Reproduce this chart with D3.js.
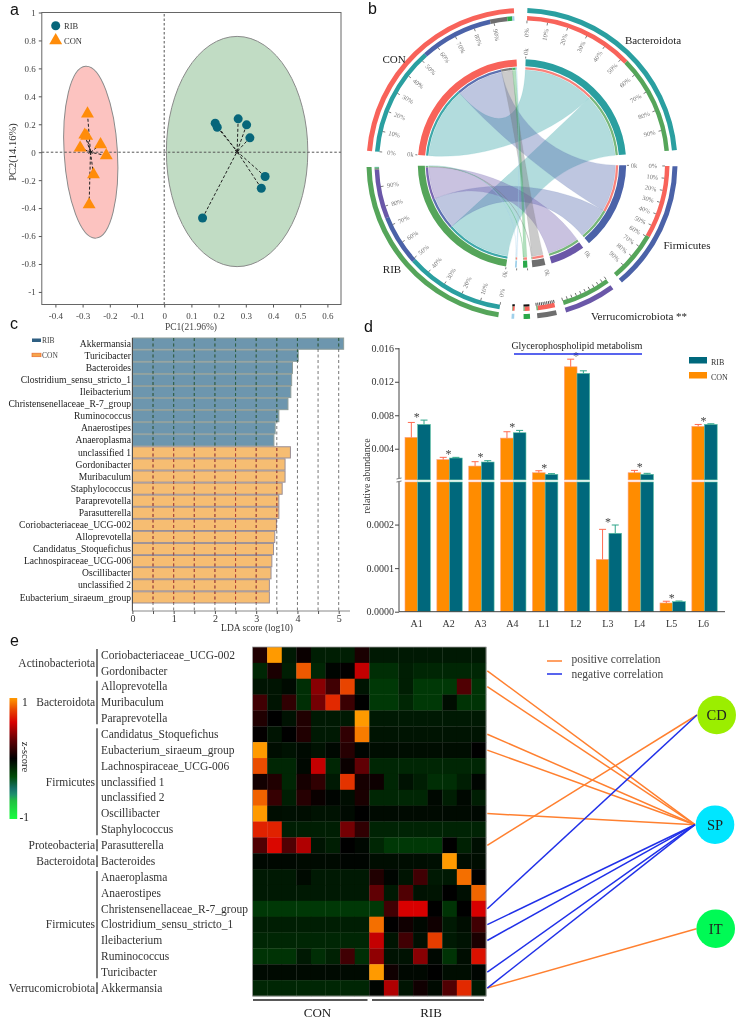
<!DOCTYPE html>
<html><head><meta charset="utf-8">
<script src="https://cdn.jsdelivr.net/npm/d3@7"></script>
<style>
html,body{margin:0;padding:0;background:#fff}
svg{display:block;filter:blur(.35px)}
text{font-family:"Liberation Serif",serif;fill:#333}
.letter{font-family:"Liberation Sans",sans-serif;font-size:16px;fill:#111}
.axis text{font-family:"Liberation Serif",serif}
</style></head><body>
<svg id="c" width="738" height="1019"></svg>
<script>
// ---------- DATA ----------
// panel a
const ribPoints=[[.1875,.208],[.195,.179],[.272,.239],[.303,.196],[.315,.103],[.371,-.174],[.357,-.258],[.141,-.471]];
const conPoints=[[-.282,.275],[-.292,.124],[-.285,.115],[-.309,.031],[-.234,.055],[-.213,-.024],[-.26,-.16],[-.276,-.375]];
const ribCentre=[.268,.005], conCentre=[-.271,0];
const ribEllipse={cx:.268,cy:.005,rx:.26,ry:.824,tilt:0};
const conEllipse={cx:-.27,cy:0,rx:.098,ry:.616,tilt:-3.4};
const pcaXTicks=[-.4,-.3,-.2,-.1,0,.1,.2,.3,.4,.5,.6];
const pcaYTicks=[-1,-.8,-.6,-.4,-.2,0,.2,.4,.6,.8,1];
// panel b
const chordTaxa=["Bacteroidota","Firmicutes","Verrucomicrobiota","Other1","Other2","Other3"];
const chordGroups=["RIB","CON"];
const chordCON=[43.7,29,0,6.8,2,.8];
const chordRIB=[39.3,20,19.5,.5,.4,.2];
const chordGaps=[6,4,3.5,2.7,3.5,4.9,6,5];
const taxaColors=["#2a9fa0","#4b62a8","#6a57a8","#6e6e6e","#2aa84a","#9fd0ea"];
const groupColors={RIB:"#55a55a",CON:"#f8635a"};
const pctTicks=[0,10,20,30,40,50,60,70,80,90];
// panel c
const ldaNames=["Akkermansia","Turicibacter","Bacteroides","Clostridium_sensu_stricto_1","Ileibacterium","Christensenellaceae_R-7_group","Ruminococcus","Anaerostipes","Anaeroplasma","unclassified 1","Gordonibacter","Muribaculum","Staphylococcus","Paraprevotella","Parasutterella","Coriobacteriaceae_UCG-002","Alloprevotella","Candidatus_Stoquefichus","Lachnospiraceae_UCG-006","Oscillibacter","unclassified 2","Eubacterium_siraeum_group"];
const ldaValues=[5.12,4.02,3.88,3.86,3.84,3.77,3.55,3.46,3.43,3.83,3.70,3.70,3.63,3.55,3.55,3.49,3.45,3.42,3.38,3.36,3.32,3.32];
const ldaRibCount=9;
// panel d
const lipidCats=["A1","A2","A3","A4","L1","L2","L3","L4","L5","L6"];
const lipidCON=[.00535,.00269,.00193,.00527,.00113,.01379,.00012,.00113,.00002,.00667];
const lipidCONerr=[.00714,.00297,.00245,.00603,.00137,.0147,.000189,.00141,.000024,.0069];
const lipidRIB=[.0069,.00289,.00241,.00591,.00094,.013,.00018,.00094,.000023,.0069];
const lipidRIBerr=[.00742,.00297,.00257,.00619,.00102,.01331,.000199,.00106,.0000245,.00698];
// panel e
const heatGenera=["Coriobacteriaceae_UCG-002","Gordonibacter","Alloprevotella","Muribaculum","Paraprevotella","Candidatus_Stoquefichus","Eubacterium_siraeum_group","Lachnospiraceae_UCG-006","unclassified 1","unclassified 2","Oscillibacter","Staphylococcus","Parasutterella","Bacteroides","Anaeroplasma","Anaerostipes","Christensenellaceae_R-7_group","Clostridium_sensu_stricto_1","Ileibacterium","Ruminococcus","Turicibacter","Akkermansia"];
const heatValues=[
[.1,1,-.1,.03,-.12,-.12,-.12,.08,-.1,-.1,-.1,-.1,-.1,-.1,-.1,-.1],
[-.15,.08,-.12,.85,-.15,-.02,.01,.55,-.18,-.18,-.12,-.15,-.15,-.15,-.15,-.15],
[-.08,-.08,-.04,-.18,.4,.2,.8,-.08,-.22,-.22,-.12,-.22,-.22,-.22,.25,-.2],
[.2,-.08,.15,-.18,.35,.72,.18,0,-.22,-.22,-.15,-.22,-.22,-.05,-.2,-.2],
[.1,0,-.07,.1,-.1,-.1,-.1,1,-.1,-.1,-.1,-.1,-.1,-.1,-.1,-.1],
[.01,-.08,0,.1,-.1,-.1,.15,.93,-.08,-.08,-.08,-.08,-.08,-.08,-.08,-.08],
[1,-.05,-.07,-.04,-.07,-.03,.12,-.02,-.05,-.05,-.05,-.05,-.05,-.05,-.05,0],
[.82,-.15,-.15,-.03,.55,-.15,.03,.3,-.15,-.15,-.15,-.15,-.15,-.15,-.15,-.15],
[.06,.1,-.15,.07,.15,-.1,.75,.07,.04,-.15,-.07,-.12,-.18,-.18,-.12,-.02],
[.87,.17,-.12,.12,.03,-.02,-.05,.08,-.15,-.15,-.15,-.15,-.03,-.12,-.03,-.12],
[1,-.05,-.06,-.05,-.07,-.07,-.04,0,-.04,-.04,-.04,-.04,-.04,-.04,-.04,-.03],
[.7,.7,-.12,-.12,-.12,-.12,.35,.15,-.14,-.14,-.14,-.14,-.14,-.14,-.14,-.14],
[.25,.62,.25,.5,-.08,-.12,0,-.03,-.15,-.22,-.22,-.22,-.22,0,-.13,-.06],
[-.03,-.03,-.03,-.04,-.04,-.04,-.02,-.02,-.05,-.05,-.05,-.05,-.06,1,-.05,-.05],
[-.1,-.1,-.1,-.04,-.1,-.1,-.1,-.1,.1,-.02,-.08,.2,-.1,-.1,.9,0],
[-.1,-.1,-.1,-.1,-.1,-.1,-.1,-.1,.3,-.1,.25,-.07,-.08,0,-.06,.88],
[-.22,-.22,-.22,-.22,-.22,-.22,-.22,-.22,-.22,.2,.6,.6,0,-.2,0,.6],
[-.12,-.12,-.12,-.12,-.12,-.12,-.12,-.12,.9,0,.05,-.03,.05,-.1,-.05,.2],
[-.15,-.15,-.15,-.15,-.15,-.15,-.15,-.15,.55,-.08,.2,-.06,.78,-.1,-.07,.08],
[-.2,-.2,-.2,-.1,-.18,-.13,.2,-.18,.42,-.07,-.07,.4,-.03,-.2,-.05,.65],
[-.04,-.04,-.04,-.04,-.04,-.04,-.04,-.04,1,.05,-.03,-.03,0,-.05,-.05,-.02],
[-.15,-.15,-.15,-.15,-.15,-.15,-.15,-.15,-.02,.5,-.08,.05,-.04,.25,.72,-.1]];
const phyla=[["Actinobacteriota",0,1],["Bacteroidota",2,4],["Firmicutes",5,11],["Proteobacteria",12,12],["Bacteroidota",13,13],["Firmicutes",14,20],["Verrucomicrobiota",21,21]];
const nodes=[{n:"CD",c:"#9bee00"},{n:"SP",c:"#00e6ff"},{n:"IT",c:"#00fa55"}];
const posLinks=[[1,"SP"],[2,"SP"],[5,"SP"],[6,"SP"],[10,"SP"],[12,"CD"],[21,"IT"]];
const negLinks=[[16,"CD"],[17,"SP"],[18,"SP"],[20,"SP"],[21,"SP"]];

// ---------- HELPERS ----------
const svg=d3.select("#c");
const font=(s,sz,col)=>{s.style("font-size",sz+"px");if(col)s.style("fill",col);return s;};
function letter(t,x,y){svg.append("text").attr("class","letter").attr("x",x).attr("y",y).text(t);}
letter("a",10,15);letter("b",368,14);letter("c",10,329);letter("d",364,332);letter("e",10,646);

// ---------- PANEL A ----------
(function(){
const x=d3.scaleLinear().domain([-.45,.65]).range([41.8,341]);
const y=d3.scaleLinear().domain([-1.09,1]).range([304.5,12.5]);
const g=svg.append("g");
const plain=d=>String(+d.toFixed(1));
[[conEllipse,"#fcc3c0"],[ribEllipse,"#c1dcc4"]].forEach(([e,f])=>{
 g.append("ellipse").attr("cx",x(e.cx)).attr("cy",y(e.cy)).attr("rx",x(e.rx)-x(0)).attr("ry",y(0)-y(e.ry))
  .attr("transform",`rotate(${e.tilt} ${x(e.cx)} ${y(e.cy)})`).attr("fill",f).attr("stroke","#8a8a8a").attr("stroke-width",1);
});
g.append("line").attr("x1",x.range()[0]).attr("x2",x.range()[1]).attr("y1",y(0)).attr("y2",y(0)).attr("stroke","#555").attr("stroke-dasharray","2.5,2").attr("stroke-width",1);
g.append("line").attr("y1",y.range()[0]).attr("y2",y.range()[1]).attr("x1",x(0)).attr("x2",x(0)).attr("stroke","#555").attr("stroke-dasharray","2.5,2").attr("stroke-width",1);
[[ribPoints,ribCentre],[conPoints,conCentre]].forEach(([pts,c])=>{
 pts.forEach(p=>g.append("line").attr("x1",x(p[0])).attr("y1",y(p[1])).attr("x2",x(c[0])).attr("y2",y(c[1])).attr("stroke","#222").attr("stroke-width",1).attr("stroke-dasharray","3,2"));
 g.append("path").attr("d",d3.symbol(d3.symbolAsterisk,16)).attr("transform",`translate(${x(c[0])},${y(c[1])})`).attr("stroke","#222").attr("fill","none");
});
const circ=d3.symbol(d3.symbolCircle,64), tri=d3.symbol(d3.symbolTriangle,72);
g.selectAll(".r").data(ribPoints).enter().append("path").attr("d",circ).attr("fill","#07667a").attr("transform",d=>`translate(${x(d[0])},${y(d[1])})`);
g.selectAll(".c").data(conPoints).enter().append("path").attr("d",tri).attr("fill","#ff8c0a").attr("transform",d=>`translate(${x(d[0])},${y(d[1])})`);
g.append("rect").attr("x",41.8).attr("y",12.5).attr("width",299.2).attr("height",292).attr("fill","none").attr("stroke","#666").attr("stroke-width",1);
const ax=g.append("g").attr("class","axis").attr("transform","translate(0,304.5)").call(d3.axisBottom(x).tickValues(pcaXTicks).tickSize(3).tickPadding(3).tickFormat(plain));
const ay=g.append("g").attr("class","axis").attr("transform","translate(41.8,0)").call(d3.axisLeft(y).tickValues(pcaYTicks).tickSize(3).tickPadding(3).tickFormat(plain));
[ax,ay].forEach(a=>{a.select(".domain").remove();a.selectAll("line").attr("stroke","#555");a.selectAll("text").style("font-size","9px").style("fill","#444");});
ax.selectAll("text").attr("dy","0.9em");
font(g.append("text").attr("transform","translate(16,152) rotate(-90)").attr("text-anchor","middle").text("PC2(14.16%)"),10.5,"#333");
g.append("path").attr("d",circ).attr("fill","#07667a").attr("transform","translate(55.7,25.7)");
g.append("path").attr("d",tri).attr("fill","#ff8c0a").attr("transform","translate(55.7,40.5)");
font(g.append("text").attr("x",64).attr("y",29).text("RIB"),8.5,"#333");
font(g.append("text").attr("x",64).attr("y",43.5).text("CON"),8.5,"#333");
font(svg.append("text").attr("x",191).attr("y",330).attr("text-anchor","middle").text("PC1(21.96%)"),9.5,"#444");
})();

// ---------- PANEL B ----------
(function(){
const g=svg.append("g").attr("transform","translate(522,163.5)");
const rad=d=>d*Math.PI/180;
const taxaSizes=chordTaxa.map((_,i)=>chordCON[i]+chordRIB[i]);
const order=[...chordTaxa.map((n,i)=>({name:n,size:taxaSizes[i],color:taxaColors[i],kind:"taxon",i})),
 {name:"RIB",size:d3.sum(chordRIB),color:groupColors.RIB,kind:"group",vals:chordRIB},
 {name:"CON",size:d3.sum(chordCON),color:groupColors.CON,kind:"group",vals:chordCON}];
let a=2;
order.forEach((s,i)=>{s.start=a;a+=s.size;s.end=a;a+=chordGaps[i];});
const arc=d3.arc();
const ring=(r0,r1,s,e,col,op)=>g.append("path").attr("d",arc({innerRadius:r0,outerRadius:r1,startAngle:rad(s),endAngle:rad(e)})).attr("fill",col).attr("opacity",op||1);
const segs=[];
const con=order[7], rib=order[6];
let cu=con.start, ru=rib.start;
order.slice(0,6).forEach((t)=>{
 let tu=t.start; const i=t.i;
 if(chordCON[i]>0){segs.push({g:con,ga:cu,gb:cu+chordCON[i],t,ta:tu,tb:tu+chordCON[i]});cu+=chordCON[i];tu+=chordCON[i];}
 if(chordRIB[i]>0){segs.push({g:rib,ga:ru,gb:ru+chordRIB[i],t,ta:tu,tb:tu+chordRIB[i]});ru+=chordRIB[i];tu+=chordRIB[i];}
});
const RC=93.5,k=.42;
const pt=(deg,r)=>[r*Math.sin(rad(deg)),-r*Math.cos(rad(deg))];
segs.forEach(s=>{
 const p=d3.path();
 const A=(d)=>rad(d-90);
 const p0=pt(s.ga,RC);p.moveTo(p0[0],p0[1]);
 p.arc(0,0,RC,A(s.ga),A(s.gb));
 const q1=pt(s.gb,RC*k),q2=pt(s.ta,RC*k),q3=pt(s.ta,RC);
 p.bezierCurveTo(q1[0],q1[1],q2[0],q2[1],q3[0],q3[1]);
 p.arc(0,0,RC,A(s.ta),A(s.tb));
 const w1=pt(s.tb,RC*k),w2=pt(s.ga,RC*k);
 p.bezierCurveTo(w1[0],w1[1],w2[0],w2[1],p0[0],p0[1]);
 p.closePath();
 g.append("path").attr("d",p.toString()).attr("fill",s.t.color).attr("fill-opacity",.36).attr("stroke",s.t.color).attr("stroke-opacity",.25).attr("stroke-width",.4);
});
order.forEach(s=>{ring(97.2,104.2,s.start,s.end,s.color);ring(150.5,155.5,s.start,s.end,s.color);});
segs.forEach(s=>{
 ring(94,96.3,s.ga,s.gb,s.t.color,.9);ring(94,96.3,s.ta,s.tb,s.g.color,.8);
 ring(143,147.5,s.ga,s.gb,s.t.color);ring(143,147.5,s.ta,s.tb,s.g.color);
});
const tk=(deg,r0,r1,w,col)=>{const a=pt(deg,r0),b=pt(deg,r1);g.append("line").attr("x1",a[0]).attr("y1",a[1]).attr("x2",b[0]).attr("y2",b[1]).attr("stroke",col||"#444").attr("stroke-width",w||.7);};
const lab=(deg,r,t,sz)=>{
 const p=pt(deg,r); let rot=deg-90;
 if(deg>180){rot=deg+90;}
 font(g.append("text").attr("transform",`translate(${p[0]},${p[1]}) rotate(${rot})`).attr("text-anchor","middle").attr("dy","0.35em").text(t),sz,"#777");
};
order.forEach(s=>{
 const big=s.size>40;
 const sc=d3.scaleLinear().domain([0,100]).range([s.start,s.end]);
 if(big){
  pctTicks.forEach(v=>{tk(sc(v),140.3,143,.7);lab(sc(v),131,v+"%",6.5);});
  lab(s.start,112,"0k",6.5);tk(s.start,105,107,.7);
 } else if(s.name==="Verrucomicrobiota"){
  d3.range(0,101,10).forEach(v=>tk(sc(v),140,143,.7,"#333"));
  lab(s.start,112,"0k",6.5);
 } else if(s.name==="Other1"){
  d3.range(0,101,10).forEach(v=>tk(sc(v),140,143,.8,"#222"));
  lab(s.start,112,"0k",6.5);
 } else {
  ring(141,143,s.start,s.end,"#111");
  tk(s.start,105,107,.7);
 }
});
const L=(x,y,t)=>font(svg.append("text").attr("x",x).attr("y",y).attr("text-anchor","middle").attr("dy","0.35em").text(t),11,"#222");
L(653,40,"Bacteroidota");L(394,59,"CON");L(392,269,"RIB");L(687,245,"Firmicutes");L(639,316,"Verrucomicrobiota **");
})();

// ---------- PANEL C ----------
(function(){
const x=d3.scaleLinear().domain([0,5]).range([132.4,338.7]);
const y=d3.scaleBand().domain(ldaNames).range([338,603]).paddingInner(.07).paddingOuter(0);
const g=svg.append("g");
const isRib=i=>i<ldaRibCount;
g.selectAll(".b").data(ldaNames).enter().append("rect").attr("x",x(0)).attr("y",d=>y(d))
 .attr("width",(d,i)=>x(ldaValues[i])-x(0)).attr("height",y.bandwidth())
 .attr("fill",(d,i)=>isRib(i)?"#6d96ae":"#f6bd72").attr("stroke",(d,i)=>isRib(i)?"#8f9e9a":"#9a8f96").attr("stroke-width",1);
const dashes=d3.range(.5,5.01,.5);
const lines=(sel,col)=>sel.selectAll("line").data(dashes).enter().append("line").attr("x1",d=>x(d)).attr("x2",d=>x(d)).attr("y1",338).attr("y2",611).attr("stroke",col).attr("stroke-width",.9).attr("stroke-dasharray","3,2.5");
lines(g.append("g"),"#666");
["rib","con"].forEach((k,ki)=>{
 const cp=svg.append("clipPath").attr("id","clip"+k);
 ldaNames.forEach((n,i)=>{if(isRib(i)===(ki===0))cp.append("rect").attr("x",x(0)).attr("y",y(n)).attr("width",x(ldaValues[i])-x(0)).attr("height",y.bandwidth());});
 lines(g.append("g").attr("clip-path",`url(#clip${k})`),ki===0?"#23603f":"#c0392b");
});
g.selectAll(".t").data(ldaNames).enter().append("text").attr("x",131).attr("y",d=>y(d)+y.bandwidth()/2).attr("dy","0.33em").attr("text-anchor","end").style("font-size","9.6px").style("fill","#222").text(d=>d);
g.append("line").attr("x1",x(0)).attr("x2",x(0)).attr("y1",338).attr("y2",611).attr("stroke","#444");
const ax=g.append("g").attr("class","axis").attr("transform","translate(0,611)").call(d3.axisBottom(x).tickValues(d3.range(0,5.01,.5)).tickSize(3).tickPadding(1).tickFormat(d=>Number.isInteger(d)?d:""));
ax.select(".domain").attr("d","M132.4,0H350").attr("stroke","#888");
ax.selectAll("line").attr("stroke","#555");ax.selectAll("text").style("font-size","10px").style("fill","#333");
font(g.append("text").attr("x",257).attr("y",631).attr("text-anchor","middle").text("LDA score (log10)"),9.5,"#333");
g.append("rect").attr("x",32).attr("y",338.5).attr("width",9).attr("height",3.5).attr("fill","#2f5f82");
g.append("rect").attr("x",32).attr("y",353.2).attr("width",9).attr("height",3.5).attr("fill","#f6a54a").attr("stroke","#e86a30").attr("stroke-width",.7);
font(g.append("text").attr("x",42).attr("y",343).text("RIB"),7.5,"#444");
font(g.append("text").attr("x",42).attr("y",358).text("CON"),7.5,"#444");
})();

// ---------- PANEL D ----------
(function(){
const yU=d3.scaleLinear().domain([.00018,.016]).range([480.7,348.3]);
const yL=d3.scaleLinear().domain([0,.0003]).range([611.7,481]);
const Y=v=>v>=.0003?yU(v):yL(v);
const x=d3.scaleBand().domain(lipidCats).range([405,717.2]).paddingInner(.205).paddingOuter(0);
const g=svg.append("g");
const bw=x.bandwidth()/2;
const drawSeries=(vals,errs,off,fill,edge,errCol)=>{
 lipidCats.forEach((c,i)=>{
  const X=x(c)+off,v=vals[i];
  if(v>=.0003){
   g.append("rect").attr("x",X).attr("y",yU(v)).attr("width",bw).attr("height",yU.range()[0]-yU(v)-.8).attr("fill",fill).attr("stroke",edge).attr("stroke-width",.6);
   g.append("rect").attr("x",X).attr("y",yL.range()[1]+1).attr("width",bw).attr("height",yL(0)-yL.range()[1]-1).attr("fill",fill).attr("stroke",edge).attr("stroke-width",.6);
  } else {
   g.append("rect").attr("x",X).attr("y",yL(v)).attr("width",bw).attr("height",yL(0)-yL(v)).attr("fill",fill).attr("stroke",edge).attr("stroke-width",.6);
  }
  const mx=X+bw/2, top=Y(errs[i]), base=Y(v);
  g.append("line").attr("x1",mx).attr("x2",mx).attr("y1",base).attr("y2",top).attr("stroke",errCol).attr("stroke-width",1);
  g.append("line").attr("x1",mx-3.5).attr("x2",mx+3.5).attr("y1",top).attr("y2",top).attr("stroke",errCol).attr("stroke-width",1);
 });
};
drawSeries(lipidCON,lipidCONerr,0,"#ff8c00","#ff9d7d","#ff6b50");
drawSeries(lipidRIB,lipidRIBerr,bw,"#00687c","#55bfa0","#2ea58a");
lipidCats.forEach((c,i)=>{
 const m=Math.min(Y(lipidCONerr[i]),Y(lipidRIBerr[i]));
 font(g.append("text").attr("x",x(c)+bw-1).attr("y",m+.8).attr("text-anchor","middle").text("*"),12,"#444");
});
g.append("line").attr("x1",399).attr("x2",399).attr("y1",348).attr("y2",478).attr("stroke","#444");
g.append("line").attr("x1",399).attr("x2",399).attr("y1",482).attr("y2",611.7).attr("stroke","#444");
g.append("line").attr("x1",399).attr("x2",725).attr("y1",611.7).attr("y2",611.7).attr("stroke","#444");
const t1=g.append("g").attr("class","axis").attr("transform","translate(399,0)").call(d3.axisLeft(yU).tickValues([.004,.008,.012,.016]).tickSize(4).tickPadding(1).tickFormat(d3.format(".3f")));
const t2=g.append("g").attr("class","axis").attr("transform","translate(399,0)").call(d3.axisLeft(yL).tickValues([0,.0001,.0002]).tickSize(4).tickPadding(1).tickFormat(d3.format(".4f")));
[t1,t2].forEach(a=>{a.select(".domain").remove();a.selectAll("line").attr("stroke","#444");a.selectAll("text").style("font-size","10px").style("fill","#333");});
g.append("line").attr("x1",396.5).attr("x2",401.5).attr("y1",479).attr("y2",478).attr("stroke","#444").attr("stroke-width",.7);
g.append("line").attr("x1",396.5).attr("x2",401.5).attr("y1",482).attr("y2",481).attr("stroke","#444").attr("stroke-width",.7);
lipidCats.forEach(c=>font(g.append("text").attr("x",x(c)+bw-1).attr("y",627).attr("text-anchor","middle").text(c),10,"#333"));
font(g.append("text").attr("transform","translate(370,476) rotate(-90)").attr("text-anchor","middle").text("relative abundance"),10,"#333");
font(g.append("text").attr("x",577).attr("y",349).attr("text-anchor","middle").text("Glycerophospholipid metabolism"),9.8,"#222");
g.append("line").attr("x1",514).attr("x2",642).attr("y1",354).attr("y2",354).attr("stroke","#2030e8").attr("stroke-width",1.3);
g.append("rect").attr("x",689).attr("y",357).attr("width",18).attr("height",6.5).attr("fill","#00687c");
g.append("rect").attr("x",689).attr("y",372).attr("width",18).attr("height",6.5).attr("fill","#ff8c00");
font(g.append("text").attr("x",711).attr("y",365).text("RIB"),8,"#333");
font(g.append("text").attr("x",711).attr("y",379.5).text("CON"),8,"#333");
})();

// ---------- PANEL E ----------
(function(){
const cols=d3.range(16);
const x=d3.scaleBand().domain(cols).range([252.6,486]);
const y=d3.scaleBand().domain(heatGenera).range([647,996]);
const color=d3.scaleLinear().domain([-1,-.7,-.55,-.3,0,.3,.6,.8,1]).range(["#18ff40","#20c040","#1a7a80","#004c08","#000","#600004","#d80000","#e84400","#ff9a00"]);
const g=svg.append("g");
heatGenera.forEach((n,r)=>cols.forEach(c=>g.append("rect").attr("x",x(c)).attr("y",y(n)).attr("width",x.bandwidth()+.3).attr("height",y.bandwidth()+.3).attr("fill",color(heatValues[r][c]))));
g.append("rect").attr("x",252.6).attr("y",647).attr("width",233.4).attr("height",349).attr("fill","none").attr("stroke","#999").attr("stroke-width",.8);
heatGenera.forEach(n=>font(g.append("text").attr("x",101).attr("y",y(n)+y.bandwidth()/2).attr("dy","0.33em").text(n),11.5,"#333"));
phyla.forEach(([n,a,b])=>{
 const y0=y(heatGenera[a])+2,y1=y(heatGenera[b])+y.bandwidth()-2;
 g.append("line").attr("x1",97).attr("x2",97).attr("y1",y0).attr("y2",y1).attr("stroke","#222").attr("stroke-width",1.2);
 font(g.append("text").attr("x",95).attr("y",(y0+y1)/2).attr("dy","0.33em").attr("text-anchor","end").text(n),11.5,"#333");
});
g.append("line").attr("x1",253).attr("x2",367.5).attr("y1",1000).attr("y2",1000).attr("stroke","#222").attr("stroke-width",1.5);
g.append("line").attr("x1",372).attr("x2",484).attr("y1",1000).attr("y2",1000).attr("stroke","#222").attr("stroke-width",1.5);
font(g.append("text").attr("x",317.5).attr("y",1017).attr("text-anchor","middle").text("CON"),13,"#222");
font(g.append("text").attr("x",431).attr("y",1017).attr("text-anchor","middle").text("RIB"),13,"#222");
const defs=svg.append("defs");
const grad=defs.append("linearGradient").attr("id","zg").attr("x1",0).attr("x2",0).attr("y1",0).attr("y2",1);
d3.range(0,1.001,.05).forEach(t=>grad.append("stop").attr("offset",t).attr("stop-color",color(1-2*t)));
g.append("rect").attr("x",9.5).attr("y",698).attr("width",7.7).attr("height",121).attr("fill","url(#zg)");
font(g.append("text").attr("x",22).attr("y",706).text("1"),11.5,"#222");
font(g.append("text").attr("x",19.5).attr("y",821).text("-1"),11.5,"#222");
font(g.append("text").attr("transform","translate(22,757) rotate(90)").attr("text-anchor","middle").text("z-score"),10.5,"#222");
const nodeY={CD:715,SP:824.7,IT:928.7}, nodeX={CD:716.7,SP:715,IT:715.7}, tipX={CD:697,SP:695,IT:696.5};
const linkStroke=(links,col)=>links.forEach(([r,n])=>g.append("line").attr("x1",487.3).attr("y1",y(heatGenera[r])+y.bandwidth()/2).attr("x2",tipX[n]).attr("y2",nodeY[n]).attr("stroke",col).attr("stroke-width",1.5));
linkStroke(posLinks,"#ff8030");linkStroke(negLinks,"#2030e8");
nodes.forEach(d=>{
 g.append("circle").attr("cx",nodeX[d.n]).attr("cy",nodeY[d.n]).attr("r",19.3).attr("fill",d.c);
 font(g.append("text").attr("x",nodeX[d.n]).attr("y",nodeY[d.n]).attr("dy","0.35em").attr("text-anchor","middle").text(d.n),14.5,"#222");
});
g.append("line").attr("x1",547).attr("x2",562).attr("y1",661).attr("y2",661).attr("stroke","#ff8030").attr("stroke-width",1.5);
g.append("line").attr("x1",547).attr("x2",562).attr("y1",674).attr("y2",674).attr("stroke","#2030e8").attr("stroke-width",1.5);
font(g.append("text").attr("x",571.5).attr("y",663).text("positive correlation"),11.5,"#444");
font(g.append("text").attr("x",571.5).attr("y",677.5).text("negative correlation"),11.5,"#444");
})();
</script>
</body></html>
